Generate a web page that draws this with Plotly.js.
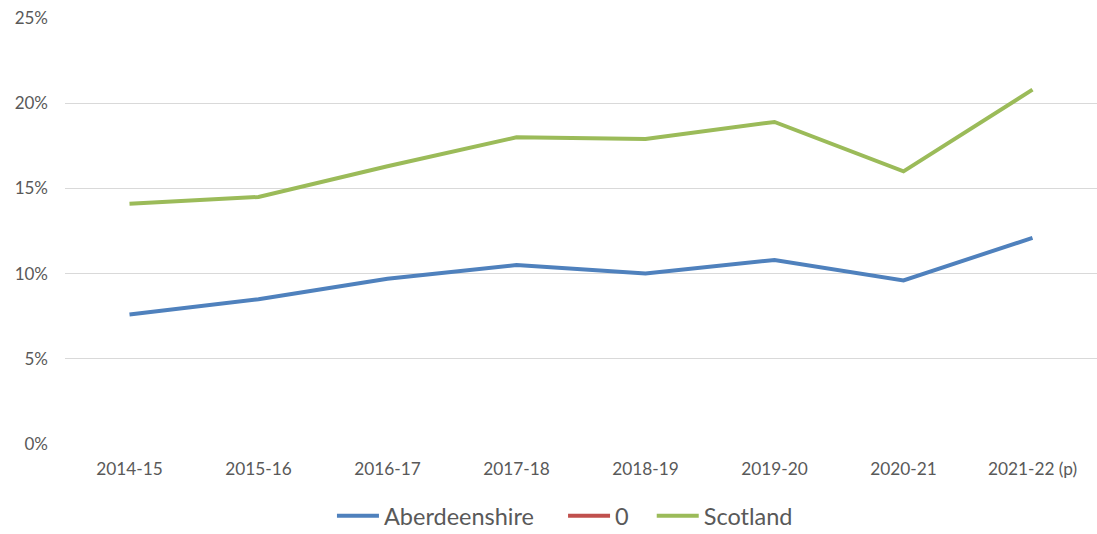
<!DOCTYPE html>
<html>
<head>
<meta charset="utf-8">
<script src="https://cdn.plot.ly/plotly-3.0.1.min.js"></script>
<style>html,body{margin:0;padding:0;background:#fff;}#chart{width:1097px;height:534px;}</style>
</head>
<body>
<div id="chart"></div>
<script>
const categories = ["2014-15","2015-16","2016-17","2017-18","2018-19","2019-20","2020-21","2021-22 (p)"];
const aberdeenshire = [7.6, 8.5, 9.7, 10.5, 10.0, 10.8, 9.6, 12.1];
const zeroSeries = [null, null, null, null, null, null, null, null];
const scotland = [14.1, 14.5, 16.3, 18.0, 17.9, 18.9, 16.0, 20.8];
const yTicks = [0, 5, 10, 15, 20, 25];
const yTickLabels = ["0%","5%","10%","15%","20%","25%"];

const traces = [
  {x: categories, y: aberdeenshire, name: "Aberdeenshire\u00a0\u00a0\u00a0\u00a0", type: "scatter", mode: "lines", line: {color: "#4F81BD", width: 4}},
  {x: categories, y: zeroSeries, name: "0\u00a0\u00a0\u00a0", type: "scatter", mode: "lines", line: {color: "#C0504D", width: 4}},
  {x: categories, y: scotland, name: "Scotland", type: "scatter", mode: "lines", line: {color: "#9BBB59", width: 4}}
];

const layout = {
  width: 1097, height: 534,
  margin: {l: 65, r: 0, t: 18, b: 90, autoexpand: false},
  paper_bgcolor: "#fff", plot_bgcolor: "#fff",
  font: {family: "Lato, 'Open Sans', sans-serif", color: "#595959", size: 16},
  showlegend: true,
  legend: {orientation: "h", x: 0.515, xanchor: "center", xref: "container", y: 0.075, yanchor: "top", yref: "container", font: {size: 23.5, color: "#595959"}, itemwidth: 42, traceorder: "normal"},
  xaxis: {type: "category", range: [-0.5, 7.5], showgrid: false, zeroline: false, showline: false, ticks: "", ticklabelstandoff: 13, tickfont: {size: 17.3}, automargin: false, fixedrange: true},
  yaxis: {range: [0, 25], tickvals: yTicks, ticktext: yTickLabels, showgrid: true, gridcolor: "#D9D9D9", gridwidth: 1, zeroline: false, showline: false, ticks: "", ticklabelstandoff: 16, tickfont: {size: 17}, automargin: false, fixedrange: true}
};

Plotly.newPlot("chart", traces, layout, {displayModeBar: false, staticPlot: true});
</script>
</body>
</html>
